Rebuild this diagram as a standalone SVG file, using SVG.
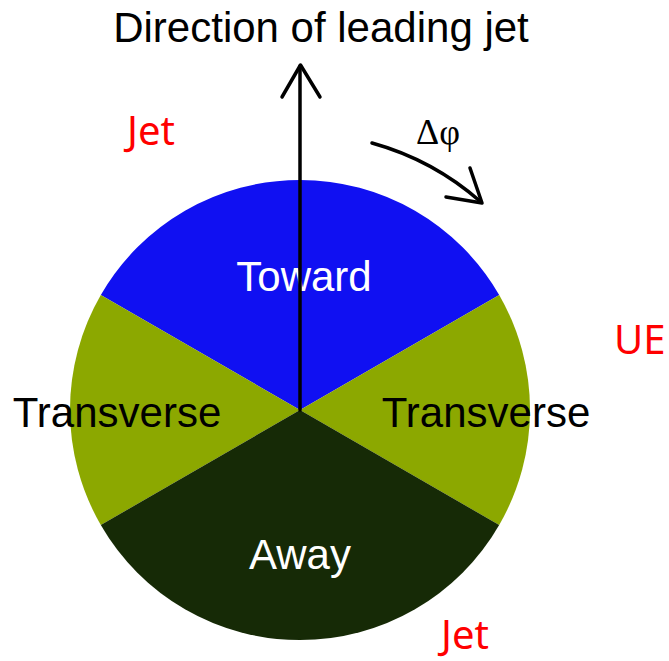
<svg xmlns="http://www.w3.org/2000/svg" width="669" height="661" viewBox="0 0 669 661">
<style>
.lbl{font-family:"Liberation Sans",Arial,sans-serif;font-size:42px;text-anchor:middle}
.red{font-family:"Noto Sans","Open Sans",sans-serif;font-size:40px;fill:#ff0000}
.ln{fill:none;stroke:#000;stroke-width:3.5;stroke-linecap:round;stroke-linejoin:round}
</style>
<rect width="669" height="661" fill="#fff"/>
<g id="toward">
<path d="M300,410 L100.8,295 A230,230 0 0 1 499.2,295 Z" fill="#1010f2"/>
<text class="lbl" x="304" y="291" fill="#fff">Toward</text>
</g>
<g id="transverse-left">
<path d="M300,410 L100.8,525 A230,230 0 0 1 100.8,295 Z" fill="#8ca800"/>
</g>
<g id="transverse-right">
<path d="M300,410 L499.2,295 A230,230 0 0 1 499.2,525 Z" fill="#8ca800"/>
</g>
<g id="away">
<path d="M300,410 L499.2,525 A230,230 0 0 1 100.8,525 Z" fill="#162a06"/>
<text class="lbl" x="300" y="569" fill="#fff">Away</text>
</g>
<g id="labels">
<text class="lbl" x="117" y="427" fill="#000">Transverse</text>
<text class="lbl" x="486" y="427" fill="#000">Transverse</text>
<text class="lbl" x="321" y="42" fill="#000" font-size="43">Direction of leading jet</text>
<text x="416" y="144" font-family="'Liberation Serif','DejaVu Serif',serif" font-size="36" fill="#000">Δφ</text>
<text class="red" x="127" y="145">Jet</text>
<text class="red" x="614" y="354">UE</text>
<text class="red" x="441" y="649">Jet</text>
</g>
<g id="connectors">
<line class="ln" x1="300" y1="410" x2="300" y2="66" stroke-width="3"/>
<polyline class="ln" points="282,97 300.5,65 320,97"/>
<path class="ln" d="M372,143 A277,277 0 0 1 481,202"/>
<polyline class="ln" points="470,168 482,203 446,197"/>
</g>
</svg>
